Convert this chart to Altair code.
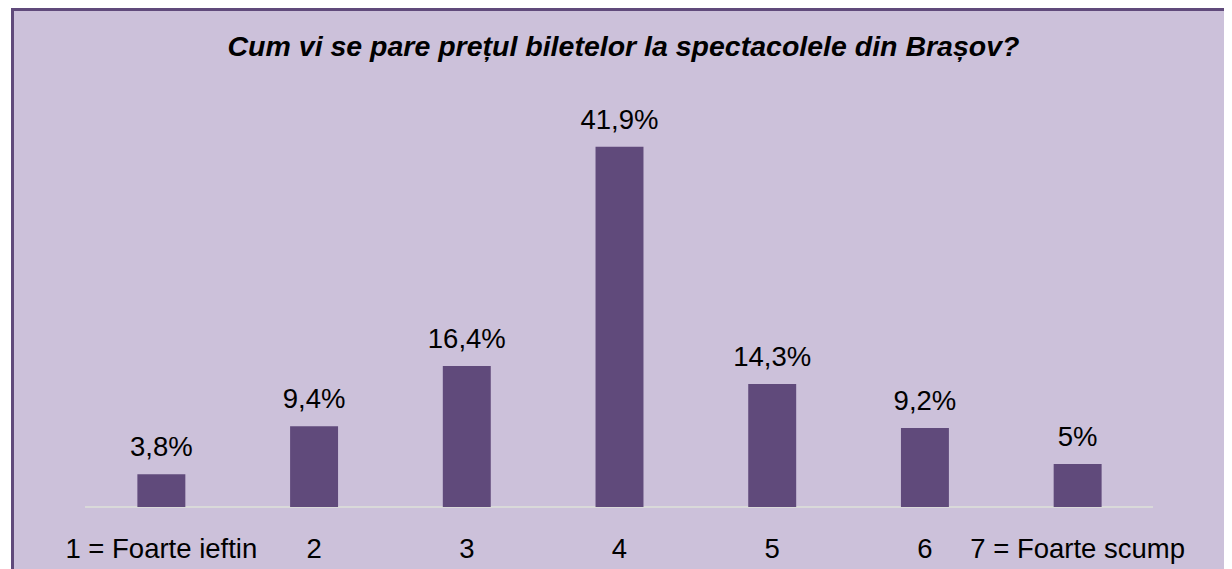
import altair as alt
import pandas as pd

categories = ["1 = Foarte ieftin", "2", "3", "4", "5", "6", "7 = Foarte scump"]
values = [3.8, 9.4, 16.4, 41.9, 14.3, 9.2, 5.0]
value_labels = ["3,8%", "9,4%", "16,4%", "41,9%", "14,3%", "9,2%", "5%"]
title_text = "Cum vi se pare prețul biletelor la spectacolele din Brașov?"

df = pd.DataFrame({"cat": categories, "pct": values, "lbl": value_labels})

BAR = "#604A7B"
BG = "#CCC1DA"
FONT = "Liberation Sans"

xscale = alt.Scale(domain=categories, range=[77, 1146], paddingInner=0.686, paddingOuter=0.343)
yscale = alt.Scale(domain=[0, 45], range=[499, 112])

x = alt.X("cat:N", scale=xscale, axis=None, sort=categories)
y = alt.Y("pct:Q", scale=yscale, axis=None)

frame = alt.Chart(pd.DataFrame({"a": [0]})).mark_rect(
    fill=BG, stroke=BAR, strokeWidth=3
).encode(
    x=alt.value(4.5), x2=alt.value(1240), y=alt.value(1.5), y2=alt.value(580)
)

title = alt.Chart(pd.DataFrame({"t": [title_text]})).mark_text(
    font=FONT, fontSize=28.5, fontWeight="bold", fontStyle="italic",
    align="center", baseline="alphabetic", color="black"
).encode(x=alt.value(615.5), y=alt.value(48), text="t:N")

baseline = alt.Chart(pd.DataFrame({"z": [0]})).mark_rule(
    color="#D9D9D9", strokeWidth=2
).encode(x=alt.value(77), x2=alt.value(1145), y=alt.Y("z:Q", scale=yscale, axis=None))

bars = alt.Chart(df).mark_bar(color=BAR).encode(x=x, y=y)

vlabels = alt.Chart(df).mark_text(
    font=FONT, fontSize=27.5, baseline="alphabetic", align="center", dy=-18, color="black"
).encode(x=x, y=y, text="lbl:N")

xlabels = alt.Chart(df).mark_text(
    font=FONT, fontSize=27.5, baseline="alphabetic", align="center", color="black"
).encode(x=x, y=alt.value(550), text="cat:N")

chart = alt.layer(frame, baseline, bars, vlabels, xlabels, title).properties(
    width=1216, height=561,
    autosize=alt.AutoSizeParams(type="none"),
    padding=0,
    background="white",
).configure_view(stroke=None)

chart.save("out.html", embed_options={"renderer": "svg", "actions": False})
